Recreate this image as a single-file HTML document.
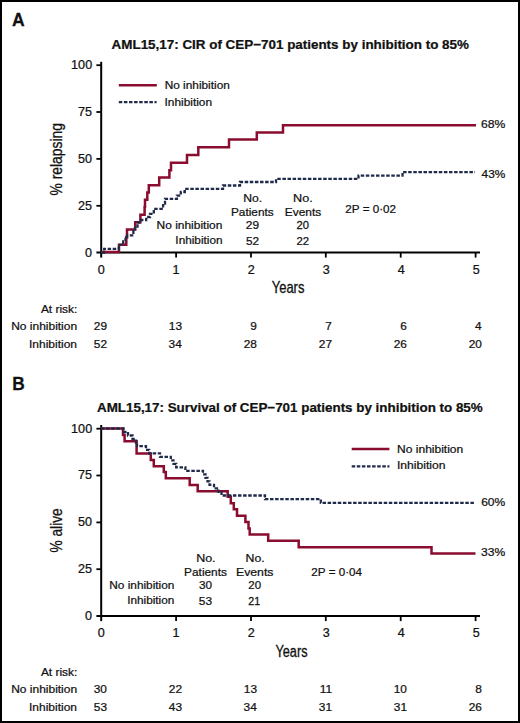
<!DOCTYPE html>
<html><head><meta charset="utf-8"><title>AML15,17 CEP-701</title>
<style>html,body{margin:0;padding:0;background:#fff;width:520px;height:723px;overflow:hidden}</style>
</head><body>
<svg width="520" height="723" viewBox="0 0 520 723" style="display:block;font-family:'Liberation Sans',sans-serif">
<rect x="0" y="0" width="520" height="723" fill="#fff"/>
<rect x="1" y="1" width="518" height="721" fill="none" stroke="#000" stroke-width="2"/>
<path d="M101.2,61.8 V257.6" stroke="#000" stroke-width="2" fill="none"/>
<path d="M96.4,252.6 H480" stroke="#000" stroke-width="2" fill="none"/>
<path d="M96.4,205.8 H101" stroke="#000" stroke-width="1.8" fill="none"/>
<path d="M96.4,158.9 H101" stroke="#000" stroke-width="1.8" fill="none"/>
<path d="M96.4,112.0 H101" stroke="#000" stroke-width="1.8" fill="none"/>
<path d="M96.4,65.2 H101" stroke="#000" stroke-width="1.8" fill="none"/>
<path d="M176.1,252.6 V257.6" stroke="#000" stroke-width="1.8" fill="none"/>
<path d="M251.0,252.6 V257.6" stroke="#000" stroke-width="1.8" fill="none"/>
<path d="M325.8,252.6 V257.6" stroke="#000" stroke-width="1.8" fill="none"/>
<path d="M400.7,252.6 V257.6" stroke="#000" stroke-width="1.8" fill="none"/>
<path d="M475.6,252.6 V257.6" stroke="#000" stroke-width="1.8" fill="none"/>
<path d="M101,251.9 H119 V244.7 H126.3 V237.2 H127 V229.6 H135.2 V222.3 H140.4 V214.8 H144.6 V207 H145 V199.8 H147.3 V192.5 H148.8 V185.3 H159.2 V177.4 H169.4 V170.3 H171 V162.7 H187 V155 H198.3 V147.3 H229 V139.6 H256.8 V132.5 H283 V125.2 H476" stroke="#8a0c2e" stroke-width="2.5" fill="none"/>
<path d="M101,252.5 H104.2 V248.9 H118.8 V244.8 H123.2 V241.4 H125.5 V237.2 H127 V235.4 H133.4 V231 H135 V226.6 H137.5 V222.5 H139.5 V220 H146.2 V217 H150 V213.8 H153.8 V208.8 H163.1 V203.5 H165 V198.8 H176.9 V195.6 H180.8 V192 H184.8 V188.8 H223 V185.5 H240 V182 H276 V178.9 H358.5 V175.6 H402.5 V172.1 H475" stroke="#202a4a" stroke-width="2.3" fill="none" stroke-dasharray="3.5 1.6"/>
<path d="M101.2,425.0 V621.1" stroke="#000" stroke-width="2" fill="none"/>
<path d="M96.4,616.1 H480" stroke="#000" stroke-width="2" fill="none"/>
<path d="M96.4,569.2 H101" stroke="#000" stroke-width="1.8" fill="none"/>
<path d="M96.4,522.4 H101" stroke="#000" stroke-width="1.8" fill="none"/>
<path d="M96.4,475.5 H101" stroke="#000" stroke-width="1.8" fill="none"/>
<path d="M96.4,428.7 H101" stroke="#000" stroke-width="1.8" fill="none"/>
<path d="M176.1,616.1 V621.1" stroke="#000" stroke-width="1.8" fill="none"/>
<path d="M251.0,616.1 V621.1" stroke="#000" stroke-width="1.8" fill="none"/>
<path d="M325.8,616.1 V621.1" stroke="#000" stroke-width="1.8" fill="none"/>
<path d="M400.7,616.1 V621.1" stroke="#000" stroke-width="1.8" fill="none"/>
<path d="M475.6,616.1 V621.1" stroke="#000" stroke-width="1.8" fill="none"/>
<path d="M101,428.5 H123 V435 H124.6 V441.2 H136.6 V453.5 H150.8 V460 H153.8 V466.2 H163.8 V472 H165.8 V478.3 H189.7 V485 H197.7 V491.2 H227.7 V496.8 H230.8 V503.2 H233.8 V509.2 H237 V515.8 H245.4 V522 H248.5 V528.5 H249.7 V534.6 H268.2 V540.8 H298.7 V547.2 H431.5 V553.6 H475.5" stroke="#8a0c2e" stroke-width="2.5" fill="none"/>
<path d="M101,428.5 H123.5 V432 H128 V435.5 H132.5 V439 H136 V442.5 H137 V446.2 H146 V449.8 H149.2 V453.3 H160 V456.8 H170.8 V460.3 H173.5 V463.8 H176.2 V467.3 H185.4 V470.8 H203 V474.3 H205.5 V477.8 H207.5 V481.3 H209.5 V484.8 H214 V488.3 H218.5 V491.8 H221.5 V495.5 H265 V499.2 H320.8 V502.8 H475" stroke="#202a4a" stroke-width="2.3" fill="none" stroke-dasharray="3.5 1.6"/>
<path d="M118.8,85.2 H156.8" stroke="#8a0c2e" stroke-width="2.5"/>
<path d="M118.8,102.2 H156.6" stroke="#202a4a" stroke-width="2.3" stroke-dasharray="3.5 1.6"/>
<path d="M351.7,449 H389.4" stroke="#8a0c2e" stroke-width="2.5"/>
<path d="M351.7,466.3 H389.4" stroke="#202a4a" stroke-width="2.3" stroke-dasharray="3.5 1.6"/>
<text transform="translate(12.04,26.40) scale(0.9165,1)" font-size="19.2" font-weight="bold" fill="#111" stroke="#111" stroke-width="0.273">A</text><text transform="translate(12.17,389.90) scale(0.9021,1)" font-size="19.2" font-weight="bold" fill="#111" stroke="#111" stroke-width="0.277">B</text><text transform="translate(111.61,48.50) scale(1.0323,1)" font-size="13" font-weight="bold" fill="#111" stroke="#111" stroke-width="0.242">AML15,17: CIR of CEP−701 patients by inhibition to 85%</text><text transform="translate(97.01,411.70) scale(1.0308,1)" font-size="13" font-weight="bold" fill="#111" stroke="#111" stroke-width="0.243">AML15,17: Survival of CEP−701 patients by inhibition to 85%</text><text transform="translate(85.04,256.50) scale(1.0500,1)" font-size="12" fill="#111" stroke="#111" stroke-width="0.238">0</text><text transform="translate(78.08,209.65) scale(1.0500,1)" font-size="12" fill="#111" stroke="#111" stroke-width="0.238">25</text><text transform="translate(78.08,162.80) scale(1.0500,1)" font-size="12" fill="#111" stroke="#111" stroke-width="0.238">50</text><text transform="translate(78.08,115.95) scale(1.0500,1)" font-size="12" fill="#111" stroke="#111" stroke-width="0.238">75</text><text transform="translate(71.12,69.10) scale(1.0500,1)" font-size="12" fill="#111" stroke="#111" stroke-width="0.238">100</text><text transform="translate(97.66,273.70) scale(1.0500,1)" font-size="12" fill="#111" stroke="#111" stroke-width="0.238">0</text><text transform="translate(172.52,273.70) scale(1.0500,1)" font-size="12" fill="#111" stroke="#111" stroke-width="0.238">1</text><text transform="translate(247.66,273.70) scale(1.0500,1)" font-size="12" fill="#111" stroke="#111" stroke-width="0.238">2</text><text transform="translate(322.72,273.70) scale(1.0500,1)" font-size="12" fill="#111" stroke="#111" stroke-width="0.238">3</text><text transform="translate(397.72,273.70) scale(1.0500,1)" font-size="12" fill="#111" stroke="#111" stroke-width="0.238">4</text><text transform="translate(472.72,273.70) scale(1.0500,1)" font-size="12" fill="#111" stroke="#111" stroke-width="0.238">5</text><text transform="translate(85.04,620.00) scale(1.0500,1)" font-size="12" fill="#111" stroke="#111" stroke-width="0.238">0</text><text transform="translate(78.08,573.15) scale(1.0500,1)" font-size="12" fill="#111" stroke="#111" stroke-width="0.238">25</text><text transform="translate(78.08,526.30) scale(1.0500,1)" font-size="12" fill="#111" stroke="#111" stroke-width="0.238">50</text><text transform="translate(78.08,479.45) scale(1.0500,1)" font-size="12" fill="#111" stroke="#111" stroke-width="0.238">75</text><text transform="translate(71.12,432.60) scale(1.0500,1)" font-size="12" fill="#111" stroke="#111" stroke-width="0.238">100</text><text transform="translate(97.66,636.70) scale(1.0500,1)" font-size="12" fill="#111" stroke="#111" stroke-width="0.238">0</text><text transform="translate(172.52,636.70) scale(1.0500,1)" font-size="12" fill="#111" stroke="#111" stroke-width="0.238">1</text><text transform="translate(247.66,636.70) scale(1.0500,1)" font-size="12" fill="#111" stroke="#111" stroke-width="0.238">2</text><text transform="translate(322.72,636.70) scale(1.0500,1)" font-size="12" fill="#111" stroke="#111" stroke-width="0.238">3</text><text transform="translate(397.72,636.70) scale(1.0500,1)" font-size="12" fill="#111" stroke="#111" stroke-width="0.238">4</text><text transform="translate(472.72,636.70) scale(1.0500,1)" font-size="12" fill="#111" stroke="#111" stroke-width="0.238">5</text><text transform="translate(271.70,293.20) scale(0.8127,1)" font-size="16" fill="#111" stroke="#111" stroke-width="0.308">Years</text><text transform="translate(275.50,656.90) scale(0.7949,1)" font-size="16" fill="#111" stroke="#111" stroke-width="0.314">Years</text><text transform="translate(164.68,88.70) scale(1.0479,1)" font-size="11.3" fill="#111" stroke="#111" stroke-width="0.239">No inhibition</text><text transform="translate(164.55,105.70) scale(1.0506,1)" font-size="11.3" fill="#111" stroke="#111" stroke-width="0.238">Inhibition</text><text transform="translate(397.07,452.50) scale(1.0661,1)" font-size="11.3" fill="#111" stroke="#111" stroke-width="0.234">No inhibition</text><text transform="translate(396.92,469.40) scale(1.0759,1)" font-size="11.3" fill="#111" stroke="#111" stroke-width="0.232">Inhibition</text><text transform="translate(480.96,128.10) scale(1.0298,1)" font-size="11.8" fill="#111" stroke="#111" stroke-width="0.243">68%</text><text transform="translate(481.55,178.20) scale(1.0043,1)" font-size="11.8" fill="#111" stroke="#111" stroke-width="0.249">43%</text><text transform="translate(481.16,505.70) scale(1.0210,1)" font-size="11.8" fill="#111" stroke="#111" stroke-width="0.245">60%</text><text transform="translate(481.09,555.80) scale(1.0242,1)" font-size="11.8" fill="#111" stroke="#111" stroke-width="0.244">33%</text><text transform="translate(243.25,202.00) scale(1.0816,1)" font-size="11.3" fill="#111" stroke="#111" stroke-width="0.231">No.</text><text transform="translate(230.99,216.00) scale(1.0456,1)" font-size="11.3" fill="#111" stroke="#111" stroke-width="0.239">Patients</text><text transform="translate(156.57,229.20) scale(1.0579,1)" font-size="11.3" fill="#111" stroke="#111" stroke-width="0.236">No inhibition</text><text transform="translate(245.84,229.10) scale(1.0549,1)" font-size="11.3" fill="#111" stroke="#111" stroke-width="0.237">29</text><text transform="translate(175.36,244.40) scale(1.0437,1)" font-size="11.3" fill="#111" stroke="#111" stroke-width="0.240">Inhibition</text><text transform="translate(245.98,244.70) scale(1.0435,1)" font-size="11.3" fill="#111" stroke="#111" stroke-width="0.240">52</text><text transform="translate(293.02,202.00) scale(1.1200,1)" font-size="11.3" fill="#111" stroke="#111" stroke-width="0.223">No.</text><text transform="translate(284.78,216.00) scale(1.0556,1)" font-size="11.3" fill="#111" stroke="#111" stroke-width="0.237">Events</text><text transform="translate(296.58,229.00) scale(0.9913,1)" font-size="11.3" fill="#111" stroke="#111" stroke-width="0.252">20</text><text transform="translate(296.57,244.70) scale(1.0022,1)" font-size="11.3" fill="#111" stroke="#111" stroke-width="0.249">22</text><text transform="translate(345.36,213.30) scale(1.0319,1)" font-size="11.3" fill="#111" stroke="#111" stroke-width="0.242">2P = 0·02</text><text transform="translate(196.13,562.30) scale(1.1072,1)" font-size="11.3" fill="#111" stroke="#111" stroke-width="0.226">No.</text><text transform="translate(184.08,575.80) scale(1.0506,1)" font-size="11.3" fill="#111" stroke="#111" stroke-width="0.238">Patients</text><text transform="translate(109.28,588.70) scale(1.0479,1)" font-size="11.3" fill="#111" stroke="#111" stroke-width="0.239">No inhibition</text><text transform="translate(198.88,589.20) scale(1.0409,1)" font-size="11.3" fill="#111" stroke="#111" stroke-width="0.240">30</text><text transform="translate(127.16,603.80) scale(1.0437,1)" font-size="11.3" fill="#111" stroke="#111" stroke-width="0.240">Inhibition</text><text transform="translate(198.87,604.60) scale(1.0522,1)" font-size="11.3" fill="#111" stroke="#111" stroke-width="0.238">53</text><text transform="translate(245.55,562.30) scale(1.0880,1)" font-size="11.3" fill="#111" stroke="#111" stroke-width="0.230">No.</text><text transform="translate(235.95,575.80) scale(1.0887,1)" font-size="11.3" fill="#111" stroke="#111" stroke-width="0.230">Events</text><text transform="translate(248.26,589.20) scale(1.0174,1)" font-size="11.3" fill="#111" stroke="#111" stroke-width="0.246">20</text><text transform="translate(248.31,604.60) scale(0.9407,1)" font-size="11.3" fill="#111" stroke="#111" stroke-width="0.266">21</text><text transform="translate(311.35,576.30) scale(1.0327,1)" font-size="11.3" fill="#111" stroke="#111" stroke-width="0.242">2P = 0·04</text><text transform="translate(40.90,312.50) scale(1.0567,1)" font-size="11.3" fill="#111" stroke="#111" stroke-width="0.237">At risk:</text><text transform="translate(11.17,329.90) scale(1.0612,1)" font-size="11.3" fill="#111" stroke="#111" stroke-width="0.236">No inhibition</text><text transform="translate(29.04,347.60) scale(1.0621,1)" font-size="11.3" fill="#111" stroke="#111" stroke-width="0.235">Inhibition</text><text transform="translate(93.80,329.90) scale(1.0500,1)" font-size="11.3" fill="#111" stroke="#111" stroke-width="0.238">29</text><text transform="translate(93.80,347.60) scale(1.0500,1)" font-size="11.3" fill="#111" stroke="#111" stroke-width="0.238">52</text><text transform="translate(168.80,329.90) scale(1.0500,1)" font-size="11.3" fill="#111" stroke="#111" stroke-width="0.238">13</text><text transform="translate(168.54,347.60) scale(1.0500,1)" font-size="11.3" fill="#111" stroke="#111" stroke-width="0.238">34</text><text transform="translate(250.36,329.90) scale(1.0500,1)" font-size="11.3" fill="#111" stroke="#111" stroke-width="0.238">9</text><text transform="translate(243.67,347.60) scale(1.0500,1)" font-size="11.3" fill="#111" stroke="#111" stroke-width="0.238">28</text><text transform="translate(325.36,329.90) scale(1.0500,1)" font-size="11.3" fill="#111" stroke="#111" stroke-width="0.238">7</text><text transform="translate(318.80,347.60) scale(1.0500,1)" font-size="11.3" fill="#111" stroke="#111" stroke-width="0.238">27</text><text transform="translate(400.36,329.90) scale(1.0500,1)" font-size="11.3" fill="#111" stroke="#111" stroke-width="0.238">6</text><text transform="translate(393.67,347.60) scale(1.0500,1)" font-size="11.3" fill="#111" stroke="#111" stroke-width="0.238">26</text><text transform="translate(475.10,329.90) scale(1.0500,1)" font-size="11.3" fill="#111" stroke="#111" stroke-width="0.238">4</text><text transform="translate(468.67,347.60) scale(1.0500,1)" font-size="11.3" fill="#111" stroke="#111" stroke-width="0.238">20</text><text transform="translate(40.90,675.70) scale(1.0567,1)" font-size="11.3" fill="#111" stroke="#111" stroke-width="0.237">At risk:</text><text transform="translate(11.17,693.10) scale(1.0612,1)" font-size="11.3" fill="#111" stroke="#111" stroke-width="0.236">No inhibition</text><text transform="translate(29.04,710.80) scale(1.0621,1)" font-size="11.3" fill="#111" stroke="#111" stroke-width="0.235">Inhibition</text><text transform="translate(93.67,693.10) scale(1.0500,1)" font-size="11.3" fill="#111" stroke="#111" stroke-width="0.238">30</text><text transform="translate(93.80,710.80) scale(1.0500,1)" font-size="11.3" fill="#111" stroke="#111" stroke-width="0.238">53</text><text transform="translate(168.80,693.10) scale(1.0500,1)" font-size="11.3" fill="#111" stroke="#111" stroke-width="0.238">22</text><text transform="translate(168.80,710.80) scale(1.0500,1)" font-size="11.3" fill="#111" stroke="#111" stroke-width="0.238">43</text><text transform="translate(243.80,693.10) scale(1.0500,1)" font-size="11.3" fill="#111" stroke="#111" stroke-width="0.238">13</text><text transform="translate(243.54,710.80) scale(1.0500,1)" font-size="11.3" fill="#111" stroke="#111" stroke-width="0.238">34</text><text transform="translate(319.72,693.10) scale(1.0500,1)" font-size="11.3" fill="#111" stroke="#111" stroke-width="0.238">11</text><text transform="translate(318.80,710.80) scale(1.0500,1)" font-size="11.3" fill="#111" stroke="#111" stroke-width="0.238">31</text><text transform="translate(393.67,693.10) scale(1.0500,1)" font-size="11.3" fill="#111" stroke="#111" stroke-width="0.238">10</text><text transform="translate(393.80,710.80) scale(1.0500,1)" font-size="11.3" fill="#111" stroke="#111" stroke-width="0.238">31</text><text transform="translate(475.36,693.10) scale(1.0500,1)" font-size="11.3" fill="#111" stroke="#111" stroke-width="0.238">8</text><text transform="translate(468.67,710.80) scale(1.0500,1)" font-size="11.3" fill="#111" stroke="#111" stroke-width="0.238">26</text><text transform="translate(62.40,195.54) rotate(-90) scale(0.8683,1)" font-size="16" fill="#111" stroke="#111" stroke-width="0.288">% relapsing</text><text transform="translate(62.40,552.54) rotate(-90) scale(0.8577,1)" font-size="16" fill="#111" stroke="#111" stroke-width="0.291">% alive</text>
</svg>
</body></html>
